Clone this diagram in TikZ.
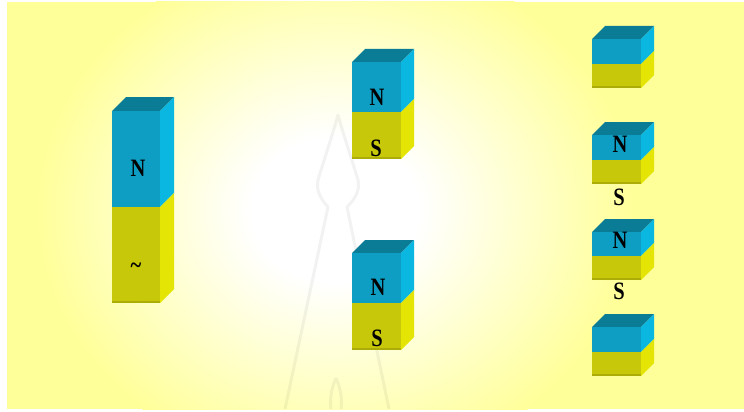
\documentclass[tikz,border=0pt]{standalone}
\usepackage{fontspec}
\setmainfont{Liberation Serif}
\begin{document}
\definecolor{bgyellow}{RGB}{255,255,153}
\definecolor{blutop}{RGB}{10,124,150}
\definecolor{blufront}{RGB}{14,158,196}
\definecolor{bluside}{RGB}{10,183,225}
\definecolor{yelfront}{RGB}{200,200,10}
\definecolor{yelside}{RGB}{228,228,5}
\definecolor{yeledge}{RGB}{172,172,8}
\pgfdeclareradialshading{glow}{\pgfpoint{0bp}{0bp}}{%
  color(0bp)=(white); color(7bp)=(white); color(25bp)=(bgyellow); color(50bp)=(bgyellow)}
% bar magnet: #1 left x, #2 top y, #3 pole boundary y, #4 bottom y, #5 width, #6 depth
\newcommand{\barmag}[6]{%
  \fill[blutop] (#1,#2) -- ++(#6,-#6) -- ++(#5,0) -- (#1+#5,#2) -- cycle;
  \fill[blufront] (#1,#2) rectangle (#1+#5,#3);
  \fill[yelfront] (#1,#3) rectangle (#1+#5,#4);
  \fill[yeledge] (#1,#4-2) rectangle (#1+#5,#4);
  \fill[bluside] (#1+#5,#2) -- ++(#6,-#6) -- (#1+#5+#6,#3-#6) -- (#1+#5,#3) -- cycle;
  \fill[yelside] (#1+#5,#3) -- ++(#6,-#6) -- (#1+#5+#6,#4-#6) -- (#1+#5,#4) -- cycle;
}
\begin{tikzpicture}[x=1pt,y=-1pt,
  pole/.style={font=\bfseries\fontsize{25}{25}\selectfont, text=black, xscale=0.82, inner sep=0pt},
  emblem/.style={draw=black, draw opacity=0.05, line width=3pt, line join=round}]
  \useasboundingbox (0,0) rectangle (744,412);
  % page and background
  \fill[white] (0,0) rectangle (744,412);
  \fill[bgyellow] (7,2) rectangle (744,409);
  \begin{scope}
    \clip (7,2) rectangle (744,409);
    \shade[shading=glow] (335,210) ellipse (300 and 260);
  \end{scope}
  % faint emblem outline
  \draw[emblem] (285,409) -- (328,207) .. controls (320,198) and (316,190) .. (318,180)
     .. controls (324,160) and (334,130) .. (338,115)
     .. controls (342,130) and (352,160) .. (358,180)
     .. controls (360,190) and (356,198) .. (347,207) -- (389,409);
  \draw[emblem] (336,378) .. controls (330,392) and (330,402) .. (331,409)
     (336,378) .. controls (342,392) and (342,402) .. (341,409);
  % magnets
  \barmag{112}{111}{207}{303}{48}{14}
  \barmag{352}{62}{112}{159}{49}{13}
  \barmag{352}{253}{303}{350}{49}{13}
  \barmag{592}{39}{64}{88}{49}{13}
  \barmag{592}{135}{160}{184}{49}{13}
  \barmag{592}{232}{256}{280}{49}{13}
  \barmag{592}{327}{352}{376}{49}{13}
  % pole labels
  \node[pole] (n1) at (138,168) {N};
  \node[pole] (s1) at (136,268) {\textasciitilde};
  \node[pole] (n2) at (377,97) {N};
  \node[pole] (s2) at (376,148) {S};
  \node[pole] (n3) at (378,287) {N};
  \node[pole] (s3) at (377,338) {S};
  \node[pole] (n5) at (620,144) {N};
  \node[pole] (s5) at (619,197) {S};
  \node[pole] (n6) at (620,240) {N};
  \node[pole] (s6) at (619,291) {S};
\end{tikzpicture}
\end{document}
